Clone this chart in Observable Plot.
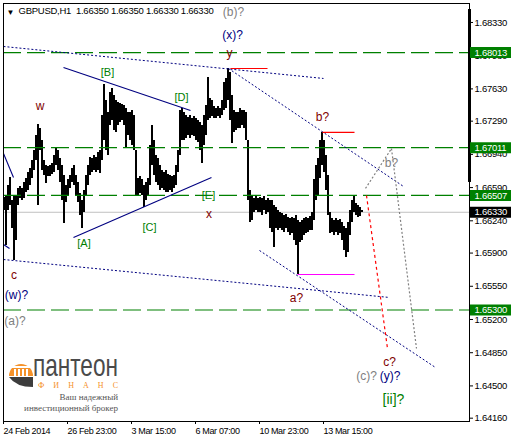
<!DOCTYPE html>
<html>
<head>
<meta charset="utf-8">
<script src="https://cdn.jsdelivr.net/npm/d3@7"></script>
<script src="https://cdn.jsdelivr.net/npm/@observablehq/plot@0.6"></script>
<style>
  body { margin: 0; background: #fff; }
  #wrap { position: relative; width: 511px; height: 439px; overflow: hidden; }
  #logo { position: absolute; left: 7px; top: 343px; }
</style>
</head>
<body>
<div id="wrap">
  <div id="chart"></div>
  <svg id="logo" width="116" height="74" viewBox="0 0 116 74">
    <g transform="translate(0,12)">
      <path d="M2,21 A12,12 0 0 1 26,21 Z" fill="#f5922a"/>
      <rect x="5" y="11" width="18" height="2" fill="#fff"/>
      <rect x="7" y="14" width="2" height="7" fill="#fff"/>
      <rect x="11" y="14" width="2" height="7" fill="#fff"/>
      <rect x="15" y="14" width="2" height="7" fill="#fff"/>
      <rect x="19" y="14" width="2" height="7" fill="#fff"/>
      <path d="M2,22 L26,22 L26,32 Q9,32 2,22 Z" fill="#3d3d3d"/>
      <text x="26" y="0" transform="translate(0,21) scale(1,1.45)" font-family="Liberation Sans, Arial, sans-serif" font-size="22" fill="#4a4a4a" textLength="85" lengthAdjust="spacingAndGlyphs">пантеон</text>
      <text x="31" y="32.5" font-family="Liberation Serif, serif" font-size="8" fill="#f5922a" textLength="80" lengthAdjust="spacing">ФИНАНС</text>
      <text x="111" y="45" text-anchor="end" font-family="Liberation Serif, serif" font-size="9" fill="#555">Ваш надежный</text>
      <text x="111" y="56" text-anchor="end" font-family="Liberation Serif, serif" font-size="9" fill="#555">инвестиционный брокер</text>
    </g>
  </svg>
</div>
<script>
// GBPUSD H1 — price axis ticks and time axis labels
const tickPrices = [1.68330, 1.67980, 1.67630, 1.67290, 1.66940, 1.66590, 1.66240,
                    1.65900, 1.65550, 1.65200, 1.64850, 1.64500, 1.64160];
const timeSlots = [0, 64, 128, 192, 256, 320];
const timeLabels = ["24 Feb 2014", "26 Feb 23:00", "3 Mar 15:00", "6 Mar 07:00",
                    "10 Mar 23:00", "13 Mar 15:00"];
const quote = ["1.66350", "1.66350", "1.66330", "1.66330"];

// Two-hour high/low ranges, starting 24 Feb 00:00
const barHigh = [
  1.6649,1.6651,1.6661,1.6670,1.6645,1.6651,1.6651,1.6658,1.6660,1.6658,
  1.6664,1.6669,1.6675,1.6679,1.6688,1.6698,1.6714,1.6726,1.6721,1.6709,
  1.6688,1.6682,1.6681,1.6682,1.6684,1.6693,1.6701,1.6698,1.6690,1.6682,
  1.6672,1.6661,1.6667,1.6672,1.6679,1.6682,1.6672,1.6664,1.6653,1.6645,
  1.6656,1.6672,1.6682,1.6691,1.6690,1.6693,1.6691,1.6696,1.6698,1.6735,
  1.6768,1.6751,1.6738,1.6759,1.6763,1.6756,1.6751,1.6749,1.6748,1.6747,
  1.6746,1.6742,1.6738,1.6738,1.6740,1.6735,1.6698,1.6669,1.6671,1.6667,
  1.6661,1.6664,1.6669,1.6703,1.6724,1.6709,1.6693,1.6690,1.6682,1.6677,
  1.6675,1.6677,1.6673,1.6672,1.6671,1.6672,1.6682,1.6698,1.6740,1.6742,
  1.6738,1.6735,1.6733,1.6735,1.6732,1.6734,1.6732,1.6730,1.6728,1.6724,
  1.6735,1.6746,1.6775,1.6753,1.6751,1.6744,1.6742,1.6744,1.6742,1.6751,
  1.6770,1.6774,1.6784,1.6780,1.6756,1.6740,1.6738,1.6738,1.6742,1.6740,
  1.6740,1.6738,1.6709,1.6656,1.6650,1.6648,1.6650,1.6648,1.6649,1.6648,
  1.6650,1.6645,1.6648,1.6645,1.6645,1.6640,1.6638,1.6635,1.6633,1.6632,
  1.6630,1.6631,1.6628,1.6626,1.6628,1.6626,1.6630,1.6624,1.6622,1.6624,
  1.6626,1.6628,1.6626,1.6629,1.6633,1.6667,1.6682,1.6690,1.6709,1.6717,
  1.6709,1.6693,1.6672,1.6633,1.6626,1.6624,1.6626,1.6624,1.6625,1.6622,
  1.6618,1.6616,1.6622,1.6635,1.6645,1.6651,1.6642,1.6640,1.6638,1.6635
];
const barLow = [
  1.6635,1.6598,1.6635,1.6640,1.6616,1.6582,1.6603,1.6640,1.6648,1.6645,
  1.6648,1.6654,1.6656,1.6661,1.6669,1.6677,1.6688,1.6640,1.6698,1.6677,
  1.6672,1.6663,1.6671,1.6671,1.6673,1.6675,1.6682,1.6677,1.6664,1.6645,
  1.6621,1.6643,1.6651,1.6658,1.6664,1.6661,1.6651,1.6643,1.6630,1.6616,
  1.6633,1.6651,1.6661,1.6672,1.6675,1.6677,1.6675,1.6677,1.6674,1.6688,
  1.6709,1.6698,1.6693,1.6724,1.6730,1.6719,1.6717,1.6724,1.6728,1.6730,
  1.6724,1.6700,1.6714,1.6709,1.6703,1.6698,1.6651,1.6651,1.6653,1.6651,
  1.6638,1.6645,1.6651,1.6661,1.6682,1.6672,1.6664,1.6661,1.6656,1.6658,
  1.6656,1.6654,1.6654,1.6656,1.6654,1.6658,1.6661,1.6675,1.6693,1.6709,
  1.6709,1.6711,1.6714,1.6711,1.6714,1.6713,1.6709,1.6707,1.6698,1.6684,
  1.6703,1.6714,1.6730,1.6732,1.6734,1.6732,1.6732,1.6734,1.6732,1.6735,
  1.6740,1.6742,1.6751,1.6730,1.6705,1.6717,1.6719,1.6721,1.6721,1.6724,
  1.6721,1.6709,1.6645,1.6622,1.6624,1.6633,1.6635,1.6633,1.6633,1.6630,
  1.6635,1.6631,1.6633,1.6616,1.6612,1.6596,1.6616,1.6614,1.6616,1.6614,
  1.6612,1.6616,1.6612,1.6609,1.6611,1.6603,1.6598,1.6567,1.6601,1.6603,
  1.6608,1.6611,1.6612,1.6614,1.6614,1.6624,1.6645,1.6651,1.6669,1.6682,
  1.6675,1.6656,1.6630,1.6611,1.6612,1.6609,1.6612,1.6608,1.6611,1.6603,
  1.6593,1.6585,1.6591,1.6609,1.6622,1.6633,1.6630,1.6628,1.6629,1.6633
];

// Horizontal support / resistance levels and the current bid
const levelPrices = [1.68013, 1.67011, 1.66507, 1.65300];
const bidPrice = 1.66330;

// Trend lines: start slot/price, end slot/price, kind
const segX1 = [0, 225, 60, 70, 0, 0, 0, 256, 227, 319, 294, 363, 362, 388];
const segP1 = [1.68077, 1.67845, 1.67856, 1.66064, 1.66949, 1.65990, 1.65832, 1.65927,
               1.67845, 1.67171, 1.65674, 1.66507, 1.66581, 1.67002];
const segX2 = [320, 400, 187, 208, 10, 6, 386, 432, 264, 351, 351, 384, 388, 413];
const segP2 = [1.67740, 1.66602, 1.67403, 1.66696, 1.66696, 1.65948, 1.65432, 1.64694,
               1.67845, 1.67171, 1.65674, 1.64894, 1.67002, 1.64894];
const segKind = ["channel", "channel", "triangle", "triangle", "triangle", "triangle",
                 "channel", "channel", "extreme", "extreme", "low", "target", "alt", "alt"];

// Elliott wave labels
const waveText = ["(b)?", "(x)?", "y", "w", "[B]", "[D]", "[E]", "x", "[C]", "[A]",
                  "c", "(w)?", "(a)?", "b?", "b?", "a?", "c?", "(c)?", "(y)?", "[ii]?"];
const waveSlot = [230, 229, 226, 36.5, 104, 178, 205, 205.5, 146, 80.5,
                  10.5, 13, 11.5, 319, 388, 293, 386, 363, 386.5, 390];
const wavePrice = [1.68440, 1.68193, 1.68003, 1.67445, 1.67803, 1.67540, 1.66507, 1.66306,
                   1.66169, 1.66001, 1.65664, 1.65453, 1.65179, 1.67329, 1.66844, 1.65421,
                   1.64747, 1.64599, 1.64599, 1.64357];
const waveDegree = ["alt", "intermediate", "minor", "minor", "minute", "minute", "minute",
                    "minor", "minute", "minute", "minor", "intermediate", "alt", "minor",
                    "alt", "minor", "minor", "alt", "intermediate", "main"];

// ---- styling ----
const lineStyle = {
  channel:  {stroke: "#000080", dash: "2,2", width: 1},
  triangle: {stroke: "#000080", dash: null,  width: 1.1},
  extreme:  {stroke: "#ff0000", dash: null,  width: 1.2},
  low:      {stroke: "#ff00ff", dash: null,  width: 1.2},
  target:   {stroke: "#ff0000", dash: "3,3", width: 1.2},
  alt:      {stroke: "#808080", dash: "2,2", width: 1.2}
};
const degreeStyle = {
  alt:          {fill: "#808080", size: 12},
  intermediate: {fill: "#000080", size: 12},
  minor:        {fill: "#800000", size: 12},
  minute:       {fill: "#008000", size: 11},
  main:         {fill: "#008000", size: 14}
};

const bars = barHigh.map((h, i) => ({slot: i * 2, high: h, low: barLow[i]}));
const segIdx = d3.range(segX1.length);
const waveIdx = d3.range(waveText.length);
const fmt = d => d.toFixed(5);

const lineMarks = Object.entries(lineStyle).map(([kind, s]) =>
  Plot.link(segIdx.filter(i => segKind[i] === kind), {
    x1: i => segX1[i], y1: i => segP1[i], x2: i => segX2[i], y2: i => segP2[i],
    stroke: s.stroke, strokeWidth: s.width, strokeDasharray: s.dash ?? undefined
  })
);
const labelMarks = Object.entries(degreeStyle).map(([deg, s]) =>
  Plot.text(waveIdx.filter(i => waveDegree[i] === deg), {
    x: i => waveSlot[i], y: i => wavePrice[i], text: i => waveText[i],
    fill: s.fill, fontSize: s.size, fontFamily: "'Liberation Sans', Arial, sans-serif"
  })
);

const chart = Plot.plot({
  width: 511,
  height: 439,
  marginLeft: 3,
  marginRight: 42,
  marginTop: 3,
  marginBottom: 18,
  style: {fontFamily: "'Liberation Sans', Arial, sans-serif", fontSize: "9.5px", color: "#000", background: "#fff"},
  x: {domain: [0, 466]},
  y: {domain: [1.64125, 1.68530]},
  marks: [
    Plot.ruleY([bidPrice], {stroke: "#c0c0c0", strokeWidth: 1}),
    Plot.ruleX(bars, {x: "slot", y1: "low", y2: "high", stroke: "#000", strokeWidth: 2, shapeRendering: "crispEdges"}),
    Plot.ruleY(levelPrices, {stroke: "#008000", strokeWidth: 1.2, strokeDasharray: "18,6"}),
    ...lineMarks,
    ...labelMarks,
    Plot.text(["▼"], {frameAnchor: "top-left", dx: 3, dy: 6, textAnchor: "start", lineAnchor: "top", fontSize: 8}),
    Plot.text([`GBPUSD,H1  ${quote.join(" ")}`], {frameAnchor: "top-left", dx: 15, dy: 4, textAnchor: "start", lineAnchor: "top", fontSize: 9.5}),
    Plot.axisX({ticks: timeSlots, tickFormat: d => timeLabels[timeSlots.indexOf(d)],
                tickSize: 3, tickPadding: 3, textAnchor: "start", fontSize: 9, label: null}),
    Plot.axisY({anchor: "right", ticks: tickPrices, tickFormat: fmt, tickSize: 3, tickPadding: 2,
                fontSize: 9.5, label: null}),
    Plot.frame({stroke: "#000"}),
    Plot.ruleX([466], {y1: 1.68467, y2: 1.66644, stroke: "#000", strokeWidth: 3}),
    // price tags on the right scale
    Plot.ruleY(levelPrices, {x1: 467, x2: 508, stroke: "#008000", strokeWidth: 11}),
    Plot.ruleY([bidPrice], {x1: 467, x2: 508, stroke: "#000", strokeWidth: 11}),
    Plot.text([...levelPrices, bidPrice], {x: 471, y: d => d, text: fmt, fill: "#fff", textAnchor: "start", fontSize: 9.5})
  ]
});
const svg = d3.select(chart);
svg.selectAll("[aria-label='x-axis tick label'] text").attr("letter-spacing", "-0.35");
svg.selectAll("text").filter(function() { return /^1\.\d{5}$/.test(this.textContent); }).attr("letter-spacing", "-0.25");
svg.selectAll("text").filter(function() { return this.textContent.startsWith("GBPUSD"); }).attr("letter-spacing", "-0.25");
document.getElementById("chart").append(chart);
</script>
</body>
</html>
